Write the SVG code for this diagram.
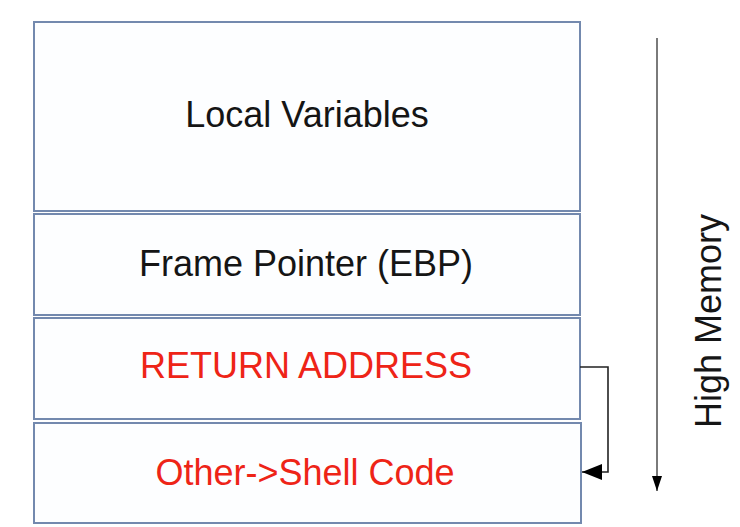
<svg xmlns="http://www.w3.org/2000/svg" width="740" height="527" viewBox="0 0 740 527">
<style>
.box{fill:#fdfeff;stroke:#7389ae;stroke-width:2}
.t{font-family:"Liberation Sans",Arial,sans-serif;font-size:36px;text-anchor:middle}
.blk{fill:#151515}
.red{fill:#ee2417}
.conn{fill:none;stroke:#222;stroke-width:1.6}
.mem{fill:none;stroke:#7a7a7a;stroke-width:2}
</style>
<defs>
<marker id="ah" viewBox="0 0 10 10" refX="10" refY="5" markerWidth="20" markerHeight="16" markerUnits="userSpaceOnUse" orient="auto" preserveAspectRatio="none">
<path d="M0,0 L10,5 L0,10 Z" fill="#000"/>
</marker>
<marker id="ah2" viewBox="0 0 10 10" refX="10" refY="5" markerWidth="15" markerHeight="10" markerUnits="userSpaceOnUse" orient="auto" preserveAspectRatio="none">
<path d="M0,0 L10,5 L0,10 Z" fill="#000"/>
</marker>
</defs>
<rect width="740" height="527" fill="#ffffff"/>
<g id="local-variables">
<rect class="box" x="34" y="22" width="546" height="189"/>
<text class="t blk" x="307" y="127">Local Variables</text>
</g>
<g id="frame-pointer">
<rect class="box" x="34" y="214" width="546" height="101"/>
<text class="t blk" x="306" y="276">Frame Pointer (EBP)</text>
</g>
<g id="return-address">
<rect class="box" x="34" y="318" width="546" height="101"/>
<text class="t red" x="306" y="378">RETURN ADDRESS</text>
</g>
<g id="shell-code">
<rect class="box" x="34" y="423" width="547" height="100"/>
<text class="t red" x="305" y="485">Other-&gt;Shell Code</text>
</g>
<g id="high-memory">
<text class="t blk" transform="translate(721,321) rotate(-90)">High Memory</text>
</g>
<g id="connectors">
<path class="conn" d="M580,367 H608 V472 H582" marker-end="url(#ah)"/>
<path class="mem" d="M657,38 V491" marker-end="url(#ah2)"/>
</g>
</svg>
